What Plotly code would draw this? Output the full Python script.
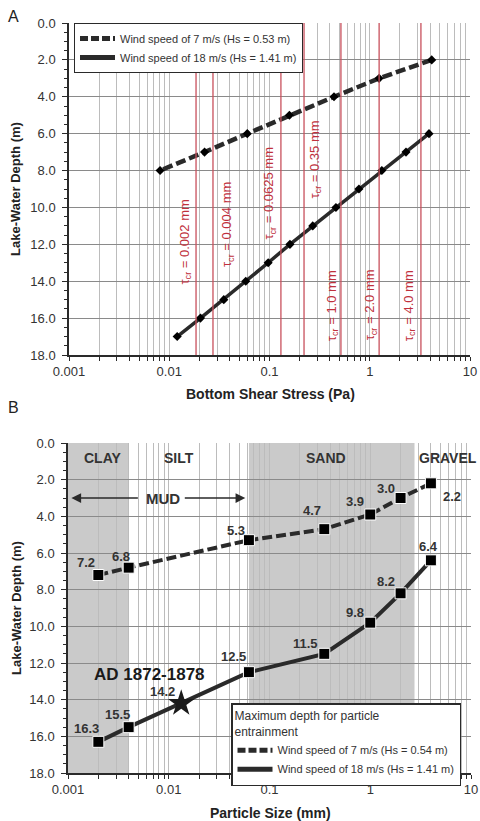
import math
import plotly.graph_objects as go

# ---------------- data ----------------
# Panel A: depth (m) vs bottom shear stress (Pa)
depth_7_a = [2, 3, 4, 5, 6, 7, 8]
stress_7_a = [4.15, 1.24, 0.44, 0.158, 0.060, 0.0225, 0.0081]
depth_18_a = [6, 7, 8, 9, 10, 11, 12, 13, 14, 15, 16, 17]
stress_18_a = [3.9, 2.3, 1.32, 0.78, 0.46, 0.27, 0.16, 0.097, 0.058, 0.035, 0.0205, 0.012]
tau_cr_stress = [0.0185, 0.0273, 0.130, 0.221, 0.516, 1.24, 3.24]
tau_cr_grain = ["0.002", "0.004", "0.0625", "0.35", "1.0", "2.0", "4.0"]

# Panel B: maximum depth for entrainment vs particle size (mm)
size_mm = [0.002, 0.004, 0.0625, 0.35, 1.0, 2.0, 4.0]
depth_7_b = [7.2, 6.8, 5.3, 4.7, 3.9, 3.0, 2.2]
depth_18_b = [16.3, 15.5, 12.5, 11.5, 9.8, 8.2, 6.4]
star_size = [0.0133]
star_depth = [14.2]
classes = ["CLAY", "SILT", "SAND", "GRAVEL"]
class_bounds = [0.001, 0.004, 0.0625, 2.75, 10]
legend_a = ["Wind speed of 7 m/s (Hs = 0.53 m)", "Wind speed of 18 m/s (Hs = 1.41 m)"]
legend_b = ["Wind speed of 7 m/s (Hs = 0.54 m)", "Wind speed of 18 m/s (Hs = 1.41 m)"]
major_ticks = [0.001, 0.01, 0.1, 1, 10]

# ---------------- styling ----------------
W, H = 480, 821
FONT = "Liberation Sans, Arial, sans-serif"
DARK = "#2a2a2a"
TXT = "#333333"
RED_LINE = "#c8505c"
RED_TXT = "#c0303c"

def px_x(p):
    return p / W

def px_y(p):
    return 1 - p / H

xdom_a = [px_x(69), px_x(470)]
ydom_a = [px_y(355), px_y(23)]
xdom_b = [px_x(68), px_x(471)]
ydom_b = [px_y(773), px_y(443)]

minor_vals = [m * 10 ** e for e in range(-3, 1) for m in range(2, 10)]

def xaxis(dom, anchor):
    return dict(domain=dom, anchor=anchor, type="log", range=[-3, 1], automargin=False,
                tickvals=major_ticks, ticktext=[f"{v:g}" for v in major_ticks],
                ticks="outside", ticklen=4, tickcolor=DARK,
                minor=dict(tickvals=minor_vals, ticks="outside", ticklen=4, tickcolor=DARK,
                           showgrid=True, gridcolor="#bcbcbc", gridwidth=1),
                showgrid=True, gridcolor="#bcbcbc", gridwidth=1,
                showline=True, linecolor=DARK, linewidth=1.5, zeroline=False,
                tickfont=dict(family=FONT, size=13, color=TXT))

def yaxis(dom, anchor):
    return dict(domain=dom, anchor=anchor, range=[18, 0], tick0=0, dtick=2, automargin=False,
                tickformat=".1f", ticks="outside", ticklen=5, tickcolor=DARK,
                ticklabelstandoff=4,
                minor=dict(dtick=0.5, ticks="outside", ticklen=3, tickcolor=DARK, showgrid=False),
                showgrid=True, gridcolor="#8a8a8a", gridwidth=1,
                showline=True, linecolor=DARK, linewidth=1.5, zeroline=False,
                tickfont=dict(family=FONT, size=13, color=TXT))

fig = go.Figure()

# ---- Panel A traces ----
fig.add_trace(go.Scatter(x=stress_7_a, y=depth_7_a, mode="lines+markers", xaxis="x", yaxis="y",
                         line=dict(color=DARK, width=4.5, dash="10px,4px"),
                         marker=dict(symbol="diamond", size=7, color="black"), showlegend=False))
fig.add_trace(go.Scatter(x=stress_18_a, y=depth_18_a, mode="lines+markers", xaxis="x", yaxis="y",
                         line=dict(color=DARK, width=3.5),
                         marker=dict(symbol="diamond", size=7, color="black"), showlegend=False))
for name, dash in zip(legend_a, ["8px,3px", "solid"]):
    fig.add_trace(go.Scatter(x=[None], y=[None], mode="lines", xaxis="x", yaxis="y", name=name,
                             line=dict(color=DARK, width=5, dash=dash), legend="legend"))

# ---- Panel B traces ----
fig.add_trace(go.Scatter(x=size_mm, y=depth_7_b, mode="lines+markers", xaxis="x2", yaxis="y2",
                         line=dict(color=DARK, width=4, dash="10px,4px"),
                         marker=dict(symbol="square", size=11, color="black", line=dict(color="white", width=1)),
                         showlegend=False))
fig.add_trace(go.Scatter(x=size_mm, y=depth_18_b, mode="lines+markers", xaxis="x2", yaxis="y2",
                         line=dict(color=DARK, width=4),
                         marker=dict(symbol="square", size=11, color="black", line=dict(color="white", width=1)),
                         showlegend=False))
fig.add_trace(go.Scatter(x=star_size, y=star_depth, mode="markers", xaxis="x2", yaxis="y2",
                         marker=dict(symbol="star", size=20, color="#1a1a1a"), showlegend=False))
for name, dash in zip(legend_b, ["8px,3px", "solid"]):
    fig.add_trace(go.Scatter(x=[None], y=[None], mode="lines", xaxis="x2", yaxis="y2", name=name,
                             line=dict(color=DARK, width=5, dash=dash), legend="legend2"))

shapes = []
annotations = []

def ann(**kw):
    d = dict(showarrow=False, xanchor="center", yanchor="middle")
    d.update(kw)
    annotations.append(d)

# critical shear stress lines (panel A)
for s in tau_cr_stress:
    shapes.append(dict(type="line", xref="x", yref="y domain", x0=s, x1=s, y0=0, y1=1,
                       line=dict(color=RED_LINE, width=1.3), layer="above"))
label_shift = [-11, 14, -11, 11, -9, -9, -12]
label_depth = [11.9, 10.9, 9.2, 7.4, 15.3, 15.3, 15.3]
for s, g, dx, d in zip(tau_cr_stress, tau_cr_grain, label_shift, label_depth):
    ann(x=math.log10(s), y=d, xref="x", yref="y",
        text=f"τ<sub>cr</sub> = {g} mm", textangle=-90, xshift=dx,
        font=dict(family=FONT, size=13, color=RED_TXT))

# sediment class shading (panel B)
for i, c in enumerate(classes):
    if i % 2 == 0:
        shapes.append(dict(type="rect", xref="x2", yref="y2 domain", x0=class_bounds[i],
                           x1=class_bounds[i + 1], y0=0, y1=1, fillcolor="#cacaca",
                           line=dict(width=0), layer="below"))
class_x = [0.0022, 0.0125, 0.36, 5.9]
for c, xv in zip(classes, class_x):
    ann(x=math.log10(xv), y=0.8, xref="x2", yref="y2", text=c,
        font=dict(family=FONT, size=14, color=TXT, weight="bold"))

# MUD arrows
ann(x=math.log10(0.0087), y=3.0, xref="x2", yref="y2", text="MUD",
    font=dict(family=FONT, size=15, color=TXT, weight="bold"))
annotations.append(dict(x=math.log10(0.00108), y=3.0, xref="x2", yref="y2", text="",
                        showarrow=True, ax=68, ay=0, arrowhead=2, arrowsize=1.3, arrowwidth=1.5,
                        arrowcolor=DARK))
annotations.append(dict(x=math.log10(0.0575), y=3.0, xref="x2", yref="y2", text="",
                        showarrow=True, ax=-62, ay=0, arrowhead=2, arrowsize=1.3, arrowwidth=1.5,
                        arrowcolor=DARK))

# value labels
off_7 = [(-12, -13), (-8, -11), (-13, -10), (-12, -19), (-15, -13), (-15, -10), (21, 13)]
off_18 = [(-12, -13), (-11, -13), (-15, -16), (-19, -10), (-15, -10), (-15, -12), (-2, -14)]
for xs, ys, offs in [(size_mm, depth_7_b, off_7), (size_mm, depth_18_b, off_18),
                     (star_size, star_depth, [(-19, -12)])]:
    for xv, yv, (dx, dy) in zip(xs, ys, offs):
        ann(x=math.log10(xv), y=yv, xref="x2", yref="y2", text=f"{yv:.1f}",
            xshift=dx, yshift=-dy, font=dict(family=FONT, size=13, color=TXT, weight="bold"))
ann(x=math.log10(star_size[0]), y=star_depth[0], xref="x2", yref="y2",
    text="AD 1872-1878", xshift=-32, yshift=29,
    font=dict(family=FONT, size=17, color="#1a1a1a", weight="bold"))

# panel letters and axis titles
ann(x=px_x(13), y=px_y(17), xref="paper", yref="paper", text="A",
    font=dict(family=FONT, size=16, color="#222"))
ann(x=px_x(13), y=px_y(408), xref="paper", yref="paper", text="B",
    font=dict(family=FONT, size=16, color="#222"))
ann(x=px_x(270), y=px_y(394), xref="paper", yref="paper", text="Bottom Shear Stress (Pa)",
    font=dict(family=FONT, size=14, color="#222", weight="bold"))
ann(x=px_x(270), y=px_y(813), xref="paper", yref="paper", text="Particle Size (mm)",
    font=dict(family=FONT, size=14, color="#222", weight="bold"))
ann(x=px_x(16), y=px_y(189), xref="paper", yref="paper", text="Lake-Water Depth (m)",
    textangle=-90, font=dict(family=FONT, size=13, color="#222", weight="bold"))
ann(x=px_x(16), y=px_y(608), xref="paper", yref="paper", text="Lake-Water Depth (m)",
    textangle=-90, font=dict(family=FONT, size=13, color="#222", weight="bold"))

fig.update_layout(
    width=W, height=H, margin=dict(l=0, r=0, t=0, b=0),
    paper_bgcolor="white", plot_bgcolor="white",
    font=dict(family=FONT, color=TXT),
    xaxis=xaxis(xdom_a, "y"), yaxis=yaxis(ydom_a, "x"),
    xaxis2=xaxis(xdom_b, "y2"), yaxis2=yaxis(ydom_b, "x2"),
    shapes=shapes, annotations=annotations,
    legend=dict(x=px_x(74), y=px_y(23), xanchor="left", yanchor="top", bgcolor="white",
                bordercolor=DARK, borderwidth=1, itemwidth=35, tracegroupgap=0,
                font=dict(family=FONT, size=11, color=TXT)),
    legend2=dict(x=px_x(231), y=px_y(703), xanchor="left", yanchor="top", bgcolor="white",
                 bordercolor=DARK, borderwidth=1.5, itemwidth=35,
                 title=dict(text="Maximum depth for particle<br>entrainment", side="top",
                            font=dict(family=FONT, size=12, color=TXT)),
                 font=dict(family=FONT, size=11, color=TXT)),
    showlegend=True,
)

fig.write_html("out.html")
